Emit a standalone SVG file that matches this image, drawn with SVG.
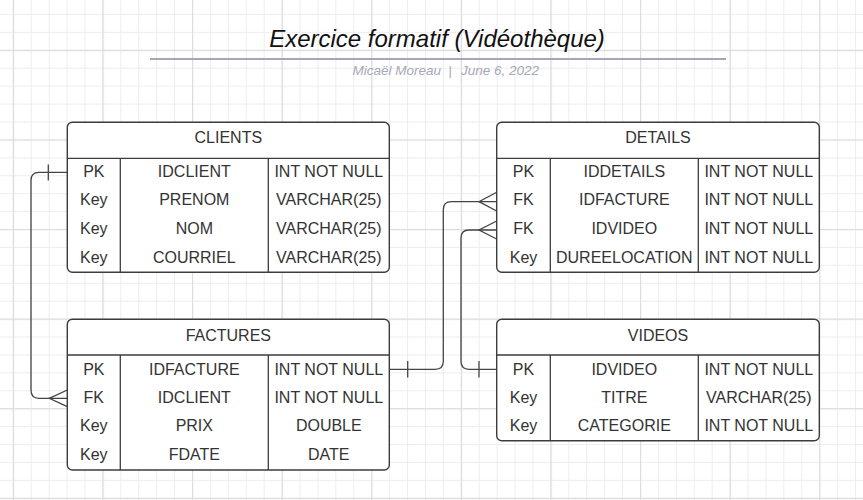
<svg xmlns="http://www.w3.org/2000/svg" width="863" height="500" viewBox="0 0 863 500">
<defs>
<pattern id="minor" patternUnits="userSpaceOnUse" x="12.8" y="49.8" width="17.92" height="17.92">
<rect x="0" y="0" width="1" height="17.92" fill="#ededed"/>
<rect x="0" y="0" width="17.92" height="1" fill="#ededed"/>
</pattern>
<pattern id="major" patternUnits="userSpaceOnUse" x="12.8" y="49.8" width="89.6" height="89.6">
<rect x="0" y="0" width="1.2" height="89.6" fill="#dcdcdc"/>
<rect x="0" y="0" width="89.6" height="1.2" fill="#dcdcdc"/>
</pattern>
</defs>
<style>
.box{fill:#ffffff;stroke:#3d3d3d;stroke-width:1.4}
.ln{stroke:#3d3d3d;stroke-width:1.3;fill:none}
.t{font-family:"Liberation Sans",Arial,sans-serif;font-size:16px;fill:#333333;text-anchor:middle}
.conn{stroke:#444444;stroke-width:1.3;fill:none}
.title{font-family:"Liberation Sans",Arial,sans-serif;font-size:24px;font-style:italic;fill:#111111;text-anchor:middle}
.sub{font-family:"Liberation Sans",Arial,sans-serif;font-size:13.5px;font-style:italic;fill:#a6a8b6}
</style>
<rect width="863" height="500" fill="#ffffff"/>
<rect width="863" height="500" fill="url(#minor)"/>
<rect width="863" height="500" fill="url(#major)"/>

<g id="title">
<text class="title" x="437" y="46.5">Exercice formatif (Vidéothèque)</text>
<line x1="150" y1="59" x2="726" y2="59" stroke="#a3a7b8" stroke-width="2"/>
<text class="sub" x="441" y="75" text-anchor="end">Micaël Moreau</text>
<text class="sub" x="450" y="75" text-anchor="middle">|</text>
<text class="sub" x="461" y="75">June 6, 2022</text>
</g>

<g id="connectors">
<path class="conn" d="M67.3 172.4 H39 Q31 172.4 31 180.4 V390.3 Q31 398.3 39 398.3 H67.3"/>
<path class="conn" d="M48.3 164.4 V180.6"/>
<path class="conn" d="M67.3 390 L49.3 398.3 L67.3 406.7"/>
<path class="conn" d="M389.3 369.3 H435.3 Q443.3 369.3 443.3 361.3 V209.7 Q443.3 201.7 451.3 201.7 H496.7"/>
<path class="conn" d="M407.7 361.1 V377.5"/>
<path class="conn" d="M496.7 192.3 L479 201.7 L496.7 211"/>
<path class="conn" d="M496.7 369.3 H469 Q461 369.3 461 361.3 V238 Q461 230 469 230 H496.7"/>
<path class="conn" d="M479 361.1 V377.5"/>
<path class="conn" d="M496.7 221 L479 230 L496.7 239"/>
</g>

<g id="clients">
<rect class="box" x="67.3" y="122.3" width="322" height="150" rx="5"/>
<path class="ln" d="M67.3 158.3 H389.3 M120.3 158.3 V272.3 M268.3 158.3 V272.3"/>
<text class="t" x="228.3" y="143.3">CLIENTS</text>
<text class="t" x="93.8" y="176.7">PK</text>
<text class="t" x="194.3" y="176.7">IDCLIENT</text>
<text class="t" x="328.8" y="176.7">INT NOT NULL</text>
<text class="t" x="93.8" y="205.3">Key</text>
<text class="t" x="194.3" y="205.3">PRENOM</text>
<text class="t" x="328.8" y="205.3">VARCHAR(25)</text>
<text class="t" x="93.8" y="234">Key</text>
<text class="t" x="194.3" y="234">NOM</text>
<text class="t" x="328.8" y="234">VARCHAR(25)</text>
<text class="t" x="93.8" y="262.7">Key</text>
<text class="t" x="194.3" y="262.7">COURRIEL</text>
<text class="t" x="328.8" y="262.7">VARCHAR(25)</text>
</g>

<g id="factures">
<rect class="box" x="67.3" y="319.3" width="322" height="150.7" rx="5"/>
<path class="ln" d="M67.3 355 H389.3 M120.3 355 V470 M268.3 355 V470"/>
<text class="t" x="228.3" y="340.7">FACTURES</text>
<text class="t" x="93.8" y="374.5">PK</text>
<text class="t" x="194.3" y="374.5">IDFACTURE</text>
<text class="t" x="328.8" y="374.5">INT NOT NULL</text>
<text class="t" x="93.8" y="402.9">FK</text>
<text class="t" x="194.3" y="402.9">IDCLIENT</text>
<text class="t" x="328.8" y="402.9">INT NOT NULL</text>
<text class="t" x="93.8" y="431.3">Key</text>
<text class="t" x="194.3" y="431.3">PRIX</text>
<text class="t" x="328.8" y="431.3">DOUBLE</text>
<text class="t" x="93.8" y="459.7">Key</text>
<text class="t" x="194.3" y="459.7">FDATE</text>
<text class="t" x="328.8" y="459.7">DATE</text>
</g>

<g id="details">
<rect class="box" x="496.7" y="122.3" width="322.6" height="150" rx="5"/>
<path class="ln" d="M496.7 158.3 H819.3 M550.3 158.3 V272.3 M698.3 158.3 V272.3"/>
<text class="t" x="658" y="143.3">DETAILS</text>
<text class="t" x="523.5" y="176.7">PK</text>
<text class="t" x="624.3" y="176.7">IDDETAILS</text>
<text class="t" x="758.8" y="176.7">INT NOT NULL</text>
<text class="t" x="523.5" y="205.3">FK</text>
<text class="t" x="624.3" y="205.3">IDFACTURE</text>
<text class="t" x="758.8" y="205.3">INT NOT NULL</text>
<text class="t" x="523.5" y="234">FK</text>
<text class="t" x="624.3" y="234">IDVIDEO</text>
<text class="t" x="758.8" y="234">INT NOT NULL</text>
<text class="t" x="523.5" y="262.7">Key</text>
<text class="t" x="624.3" y="262.7">DUREELOCATION</text>
<text class="t" x="758.8" y="262.7">INT NOT NULL</text>
</g>

<g id="videos">
<rect class="box" x="496.7" y="319.3" width="322.6" height="121.4" rx="5"/>
<path class="ln" d="M496.7 355 H819.3 M550.3 355 V440.7 M698.3 355 V440.7"/>
<text class="t" x="658" y="340.7">VIDEOS</text>
<text class="t" x="523.5" y="374.5">PK</text>
<text class="t" x="624.3" y="374.5">IDVIDEO</text>
<text class="t" x="758.8" y="374.5">INT NOT NULL</text>
<text class="t" x="523.5" y="402.9">Key</text>
<text class="t" x="624.3" y="402.9">TITRE</text>
<text class="t" x="758.8" y="402.9">VARCHAR(25)</text>
<text class="t" x="523.5" y="431.3">Key</text>
<text class="t" x="624.3" y="431.3">CATEGORIE</text>
<text class="t" x="758.8" y="431.3">INT NOT NULL</text>
</g>
</svg>
